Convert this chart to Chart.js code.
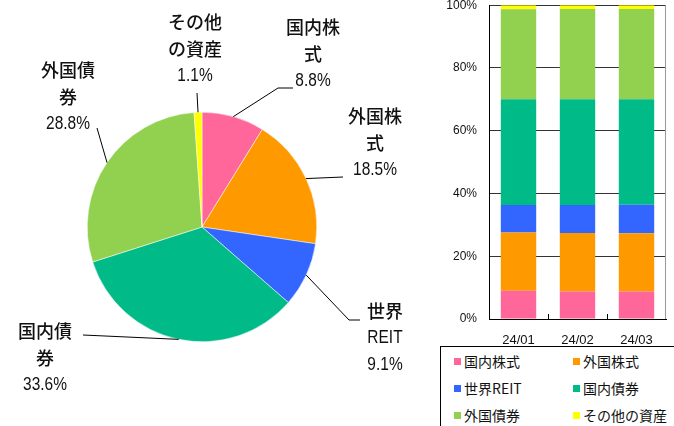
<!DOCTYPE html>
<html>
<head>
<meta charset="utf-8">
<script src="https://cdn.jsdelivr.net/npm/chart.js@4/dist/chart.umd.min.js"></script>
<style>
  body { margin: 0; background: #fff; }
  #wrap { position: relative; width: 674px; height: 426px; overflow: hidden; }
  #pieBox { position: absolute; left: 0; top: 0; width: 430px; height: 426px; }
  #barBox { position: absolute; left: 440px; top: -6px; width: 234px; height: 352px; }
  #legend {
    position: absolute; left: 440px; top: 346px; width: 240px; height: 90px;
    border: 1px solid #000; box-sizing: border-box; background: #fff;
    font-family: "Noto Sans CJK JP", sans-serif; font-size: 14px; color: #111;
  }
  .item { position: absolute; display: flex; align-items: center; line-height: 16px; }
  .sw { width: 7px; height: 7px; margin-right: 3px; }
</style>
</head>
<body>
<div id="wrap">
  <div id="pieBox"><canvas id="pieChart"></canvas></div>
  <div id="barBox"><canvas id="barChart"></canvas></div>
  <div id="legend"></div>
</div>
<script>
// asset classes, same order in pie and bars
const categories = ["国内株式", "外国株式", "世界REIT", "国内債券", "外国債券", "その他の資産"];
const colors = ["#FF6699", "#FF9900", "#3366FF", "#00BB88", "#92D050", "#FFFF00"];

// pie = latest month
const pieValues = [8.8, 18.5, 9.1, 33.6, 28.8, 1.1];
const pieLabelText = [
  ["国内株", "式", "8.8%"],
  ["外国株", "式", "18.5%"],
  ["世界", "REIT", "9.1%"],
  ["国内債", "券", "33.6%"],
  ["外国債", "券", "28.8%"],
  ["その他", "の資産", "1.1%"],
];

// stacked bars per month
const months = ["24/01", "24/02", "24/03"];
const domesticStock = [9.0, 8.8, 8.8];
const foreignStock = [18.6, 18.6, 18.5];
const globalReit = [8.7, 8.9, 9.1];
const domesticBond = [33.7, 33.7, 33.6];
const foreignBond = [28.7, 28.8, 28.8];
const otherAssets = [1.3, 1.2, 1.2];
const yTicks = [0, 20, 40, 60, 80, 100];

// where the pie labels go (text centre x, first line y, leader elbow points)
const labelLayout = [
  { x: 313, y: 27, path: [[278, 88], [293, 88]] },
  { x: 375, y: 116, path: [[343, 177]] },
  { x: 385, y: 311, path: [[349, 320], [360, 320]] },
  { x: 45, y: 331, path: [[83, 335]] },
  { x: 68, y: 70, path: [[97, 128]] },
  { x: 195, y: 22, path: [[197, 93]] },
];

const pieLabels = {
  id: "pieLabels",
  afterDraw(chart) {
    const ctx = chart.ctx;
    const arcs = chart.getDatasetMeta(0).data;
    ctx.save();
    arcs.forEach((arc, i) => {
      const lay = labelLayout[i];
      const mid = (arc.startAngle + arc.endAngle) / 2;
      ctx.beginPath();
      ctx.moveTo(arc.x + Math.cos(mid) * arc.outerRadius, arc.y + Math.sin(mid) * arc.outerRadius);
      lay.path.forEach((p) => ctx.lineTo(p[0], p[1]));
      ctx.strokeStyle = "#000";
      ctx.lineWidth = 1;
      ctx.stroke();

      ctx.fillStyle = "#111";
      ctx.textAlign = "center";
      ctx.textBaseline = "middle";
      pieLabelText[i].forEach((line, k) => {
        const y = lay.y + k * 27;
        if (/^[0-9A-Z.%]+$/.test(line)) {
          // narrow latin glyphs like the original
          ctx.save();
          ctx.font = '18px "Liberation Sans", sans-serif';
          ctx.translate(lay.x, y);
          ctx.scale(0.86, 1);
          ctx.fillText(line, 0, 0);
          ctx.restore();
        } else {
          ctx.font = '500 18px "Noto Sans CJK JP", sans-serif';
          ctx.fillText(line, lay.x, y);
        }
      });
    });
    ctx.restore();
  },
};

new Chart(document.getElementById("pieChart"), {
  type: "pie",
  data: {
    labels: categories,
    datasets: [{ data: pieValues, backgroundColor: colors, borderColor: "#fff", borderWidth: 0.5 }],
  },
  options: {
    responsive: true,
    maintainAspectRatio: false,
    animation: false,
    layout: { padding: { left: 87, right: 113, top: 112, bottom: 84 } },
    plugins: { legend: { display: false }, tooltip: { enabled: false } },
  },
  plugins: [pieLabels],
});

const frame = {
  id: "frame",
  afterDraw(chart) {
    const a = chart.chartArea;
    const ctx = chart.ctx;
    const xs = chart.scales.x;
    ctx.save();
    ctx.strokeStyle = "#999";
    ctx.lineWidth = 1;
    ctx.beginPath();
    ctx.moveTo(a.right - 0.5, a.top);
    ctx.lineTo(a.right - 0.5, a.bottom);
    ctx.stroke();
    // small inward ticks between months
    ctx.strokeStyle = "#000";
    ctx.beginPath();
    for (let i = 0; i < months.length - 1; i++) {
      const px = Math.round(xs.getPixelForValue(i + 0.5)) + 0.5;
      ctx.moveTo(px, a.bottom);
      ctx.lineTo(px, a.bottom - 5);
    }
    ctx.stroke();
    ctx.restore();
  },
};

const series = [domesticStock, foreignStock, globalReit, domesticBond, foreignBond, otherAssets];

new Chart(document.getElementById("barChart"), {
  type: "bar",
  data: {
    labels: months,
    datasets: series.map((s, i) => ({
      label: categories[i],
      data: s,
      backgroundColor: colors[i],
      categoryPercentage: 1,
      barPercentage: 0.6,
    })),
  },
  options: {
    responsive: true,
    maintainAspectRatio: false,
    animation: false,
    layout: { padding: { top: 11, right: 8, left: 0, bottom: 0 } },
    plugins: { legend: { display: false }, tooltip: { enabled: false } },
    scales: {
      x: {
        stacked: true,
        grid: { display: false },
        border: { display: true, color: "#000", width: 1 },
        ticks: { color: "#111", padding: 6, font: { family: "Liberation Sans, sans-serif", size: 13 } },
        afterFit: (s) => { s.height = 27; },
      },
      y: {
        stacked: true,
        min: 0,
        max: 100,
        afterBuildTicks: (s) => { s.ticks = yTicks.map((v) => ({ value: v })); },
        grid: { color: "#333", tickColor: "transparent", tickLength: 8 },
        border: { display: true, color: "#000", width: 1 },
        ticks: {
          color: "#111",
          padding: 4,
          font: { family: "Liberation Sans, sans-serif", size: 12 },
          callback: (v) => v + "%",
        },
        afterFit: (s) => { s.width = 49; },
      },
    },
  },
  plugins: [frame],
});

// legend box under the bars, two columns
const legend = document.getElementById("legend");
categories.forEach((name, i) => {
  const el = document.createElement("div");
  el.className = "item";
  el.style.left = (i % 2 === 0 ? 13 : 132) + "px";
  el.style.top = (6 + Math.floor(i / 2) * 27) + "px";
  el.innerHTML = '<span class="sw" style="background:' + colors[i] + '"></span>' + name;
  legend.appendChild(el);
});
</script>
</body>
</html>
